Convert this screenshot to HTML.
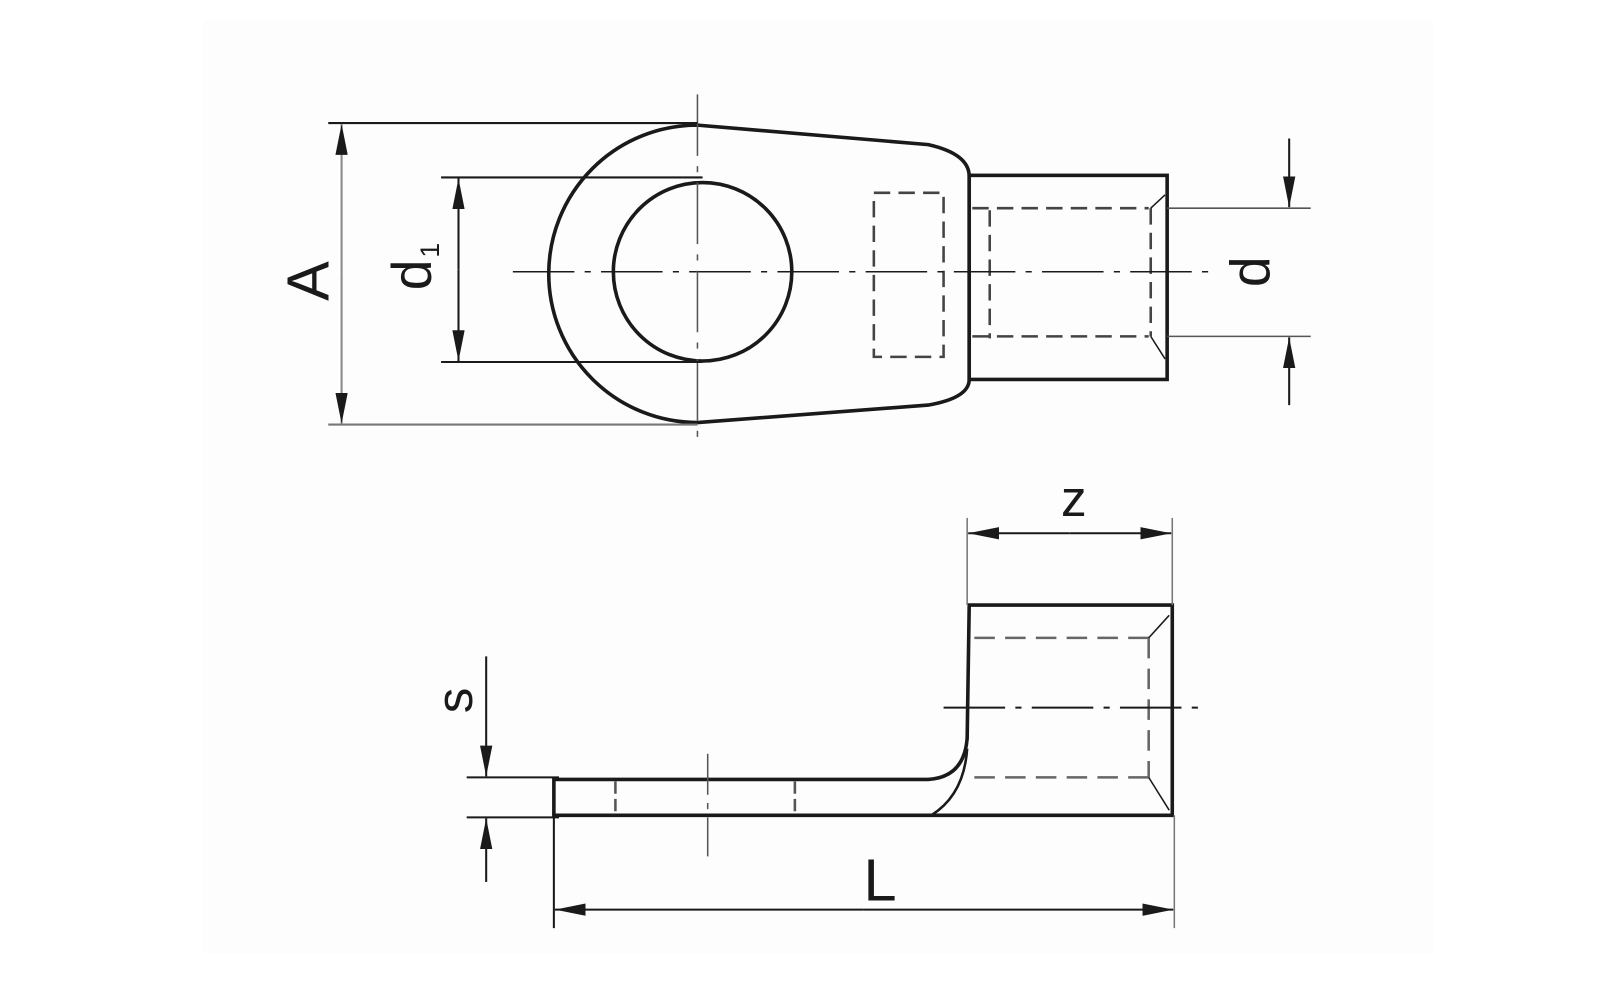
<!DOCTYPE html>
<html><head><meta charset="utf-8"><style>
html,body{margin:0;padding:0;background:#fff;}
svg{display:block;}
text{font-family:"Liberation Sans",sans-serif;fill:#1a1a1a;}
</style></head><body>
<svg width="1600" height="1004" viewBox="0 0 1560 979" xmlns="http://www.w3.org/2000/svg">
<defs>
<marker id="ar" viewBox="0 0 30 12" refX="30" refY="6" markerWidth="30" markerHeight="12" markerUnits="userSpaceOnUse" orient="auto">
<path d="M0,0 L30,6 L0,12 Z" fill="#1a1a1a"/>
</marker>
</defs>
<rect x="198" y="20" width="1200" height="910" fill="#fdfdfd"/>
<g fill="none" stroke="#1a1a1a">
<path d="M680,122 L905,141 Q945,150 945,172 L945,370 Q945,388 905,395 L680,412 A145,145 0 0 1 680,122 Z" stroke-width="3.5" fill="none"/>
<rect x="945" y="171" width="193" height="199" stroke-width="3.5"/>
<circle cx="685" cy="265" r="87" stroke-width="3.5"/>
<g stroke="#444" stroke-width="2.5" stroke-dasharray="16,8">
<rect x="852" y="188" width="68" height="160"/>
<line x1="948" y1="203" x2="1120" y2="203"/>
<line x1="948" y1="328" x2="1120" y2="328"/>
<line x1="1122" y1="203" x2="1122" y2="328"/>
<line x1="965" y1="205" x2="965" y2="330"/>
</g>
<line x1="1122" y1="203" x2="1136" y2="190" stroke-width="1.5"/>
<line x1="1122" y1="328" x2="1136" y2="350" stroke-width="1.5"/>
<line x1="500" y1="265" x2="1178" y2="265" stroke-width="1.5" stroke-dasharray="60,10,6,10"/>
<line x1="680" y1="92" x2="680" y2="432" stroke="#555" stroke-width="1.5" stroke-dasharray="60,10,6,10"/>
<line x1="320" y1="120" x2="680" y2="120" stroke-width="2"/>
<line x1="320" y1="414" x2="680" y2="414" stroke="#777" stroke-width="2"/>
<line x1="333" y1="267" x2="333" y2="121" stroke="#888" stroke-width="2" marker-end="url(#ar)"/>
<line x1="333" y1="267" x2="333" y2="413" stroke="#888" stroke-width="2" marker-end="url(#ar)"/>
<line x1="430" y1="173" x2="685" y2="173" stroke-width="2"/>
<line x1="430" y1="353" x2="685" y2="353" stroke-width="2"/>
<line x1="447" y1="263" x2="447" y2="174" stroke-width="2" marker-end="url(#ar)"/>
<line x1="447" y1="263" x2="447" y2="352" stroke-width="2" marker-end="url(#ar)"/>
<line x1="1138" y1="203" x2="1278" y2="203" stroke="#555" stroke-width="1.5"/>
<line x1="1138" y1="328" x2="1278" y2="328" stroke="#555" stroke-width="1.5"/>
<line x1="1257" y1="135" x2="1257" y2="202" stroke-width="2" marker-end="url(#ar)"/>
<line x1="1257" y1="395" x2="1257" y2="329" stroke-width="2" marker-end="url(#ar)"/>
<path d="M540,760 L905,760 Q940,758 943,720 L945,590 L1143,590 L1143,795 L540,795 Z" stroke-width="3.5"/>
<path d="M908,795 Q940,775 943,730" stroke-width="2.5"/>
<g stroke="#666" stroke-width="2.5" stroke-dasharray="20,10">
<line x1="950" y1="622" x2="1120" y2="622"/>
<line x1="950" y1="758" x2="1120" y2="758"/>
<line x1="1120" y1="622" x2="1120" y2="758"/>
</g>
<g stroke="#555" stroke-width="2.5" stroke-dasharray="12,5">
<line x1="600" y1="762" x2="600" y2="795"/>
<line x1="775" y1="762" x2="775" y2="795"/>
</g>
<line x1="1120" y1="622" x2="1140" y2="600" stroke-width="1.5"/>
<line x1="1120" y1="758" x2="1140" y2="790" stroke-width="1.5"/>
<line x1="920" y1="690" x2="1175" y2="690" stroke-width="2" stroke-dasharray="60,10,6,10"/>
<line x1="690" y1="735" x2="690" y2="835" stroke="#555" stroke-width="1.5" stroke-dasharray="40,8,6,8"/>
<line x1="943" y1="505" x2="943" y2="590" stroke="#777" stroke-width="1.5"/>
<line x1="1143" y1="505" x2="1143" y2="590" stroke="#777" stroke-width="1.5"/>
<line x1="1043" y1="520" x2="944" y2="520" stroke-width="2" marker-end="url(#ar)"/>
<line x1="1043" y1="520" x2="1142" y2="520" stroke-width="2" marker-end="url(#ar)"/>
<line x1="455" y1="758" x2="545" y2="758" stroke-width="2"/>
<line x1="455" y1="797" x2="545" y2="797" stroke-width="2"/>
<line x1="474" y1="640" x2="474" y2="757" stroke-width="2" marker-end="url(#ar)"/>
<line x1="474" y1="860" x2="474" y2="798" stroke-width="2" marker-end="url(#ar)"/>
<line x1="540" y1="795" x2="540" y2="905" stroke-width="2"/>
<line x1="1145" y1="795" x2="1145" y2="905" stroke="#777" stroke-width="1.5"/>
<line x1="842" y1="887" x2="541" y2="887" stroke-width="2" marker-end="url(#ar)"/>
<line x1="842" y1="887" x2="1144" y2="887" stroke-width="2" marker-end="url(#ar)"/>
</g>
<text x="0" y="0" font-size="58" transform="translate(320,274) rotate(-90)" text-anchor="middle">A</text>
<text x="0" y="0" font-size="54" transform="translate(420,268) rotate(-90)" text-anchor="middle">d</text>
<text x="0" y="0" font-size="26" transform="translate(428,244) rotate(-90)" text-anchor="middle">1</text>
<text x="0" y="0" font-size="54" transform="translate(1238,265) rotate(-90)" text-anchor="middle">d</text>
<text x="1047" y="503" font-size="50" text-anchor="middle">z</text>
<text x="0" y="0" font-size="50" transform="translate(460,683) rotate(-90)" text-anchor="middle">s</text>
<text x="858" y="878" font-size="58" text-anchor="middle">L</text>
</svg>
</body></html>
